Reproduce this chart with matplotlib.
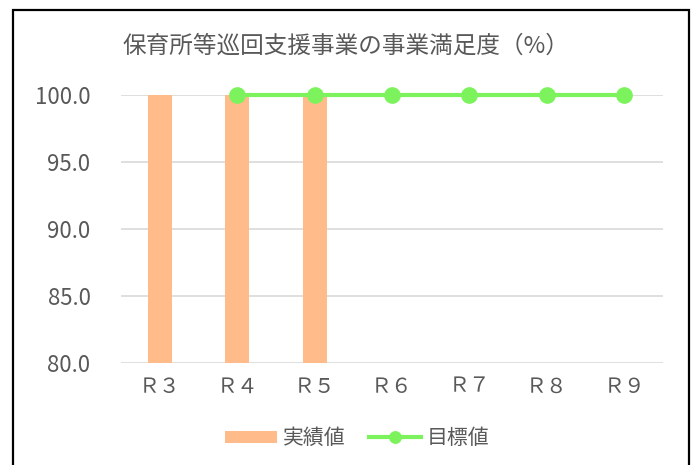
import matplotlib
matplotlib.use("Agg")
import matplotlib.pyplot as plt
from matplotlib.patches import Rectangle
from matplotlib.ticker import FormatStrFormatter

plt.rcParams['font.family'] = ['Noto Sans CJK JP', 'DejaVu Sans']

categories = ["Ｒ３", "Ｒ４", "Ｒ５", "Ｒ６", "Ｒ７", "Ｒ８", "Ｒ９"]
actual = [100.0, 100.0, 100.0, None, None, None, None]
target = [None, 100.0, 100.0, 100.0, 100.0, 100.0, 100.0]
title = "保育所等巡回支援事業の事業満足度（%）"

text_color = "#595959"
bar_color = "#FFBC8A"
line_color = "#7CF35C"
grid_color = "#D9D9D9"

fig = plt.figure(figsize=(6.92, 4.65), dpi=100)
ax = fig.add_axes([0.175, 0.219, 0.783, 0.577])

x = list(range(len(categories)))
bx = [i for i, v in zip(x, actual) if v is not None]
bv = [v for v in actual if v is not None]
bars = ax.bar(bx, bv, width=0.31, color=bar_color, label="実績値", zorder=2)

lx = [i for i, v in zip(x, target) if v is not None]
lv = [v for v in target if v is not None]
line, = ax.plot(lx, lv, color=line_color, linewidth=3, marker="o", markersize=11,
                label="目標値", zorder=3, clip_on=False)

ax.set_ylim(80, 100)
ax.set_xlim(-0.5, len(categories) - 0.5)
ax.set_yticks([80, 85, 90, 95, 100])
ax.yaxis.set_major_formatter(FormatStrFormatter("%.1f"))
ax.set_xticks(x)
ax.set_xticklabels(categories)
ax.grid(axis="y", color=grid_color, linewidth=1.2, zorder=0)
ax.set_axisbelow(True)
for s in ax.spines.values():
    s.set_visible(False)
ax.tick_params(axis="both", length=0, colors=text_color)
ax.tick_params(axis="y", labelsize=16, pad=22)
ax.tick_params(axis="x", labelsize=15, pad=9)

fig.text(0.5, 0.9, title, ha="center", va="center", fontsize=17, color=text_color)

leg = fig.legend([bars, line], ["実績値", "目標値"], loc="center",
                 bbox_to_anchor=(0.516, 0.058), ncol=2, frameon=False,
                 fontsize=15, handlelength=2.5, handleheight=0.5, markerscale=0.75,
                 columnspacing=1.1, handletextpad=0.3)
for t in leg.get_texts():
    t.set_color(text_color)

# black frame around chart (bottom edge cut off)
fig.patches.append(Rectangle((12.5 / 692, -0.1), (689 - 12.5) / 692, 1 - 10.5 / 465 + 0.1,
                             transform=fig.transFigure, fill=False, edgecolor="black",
                             linewidth=1.6))

fig.savefig("out.png", dpi=100)
